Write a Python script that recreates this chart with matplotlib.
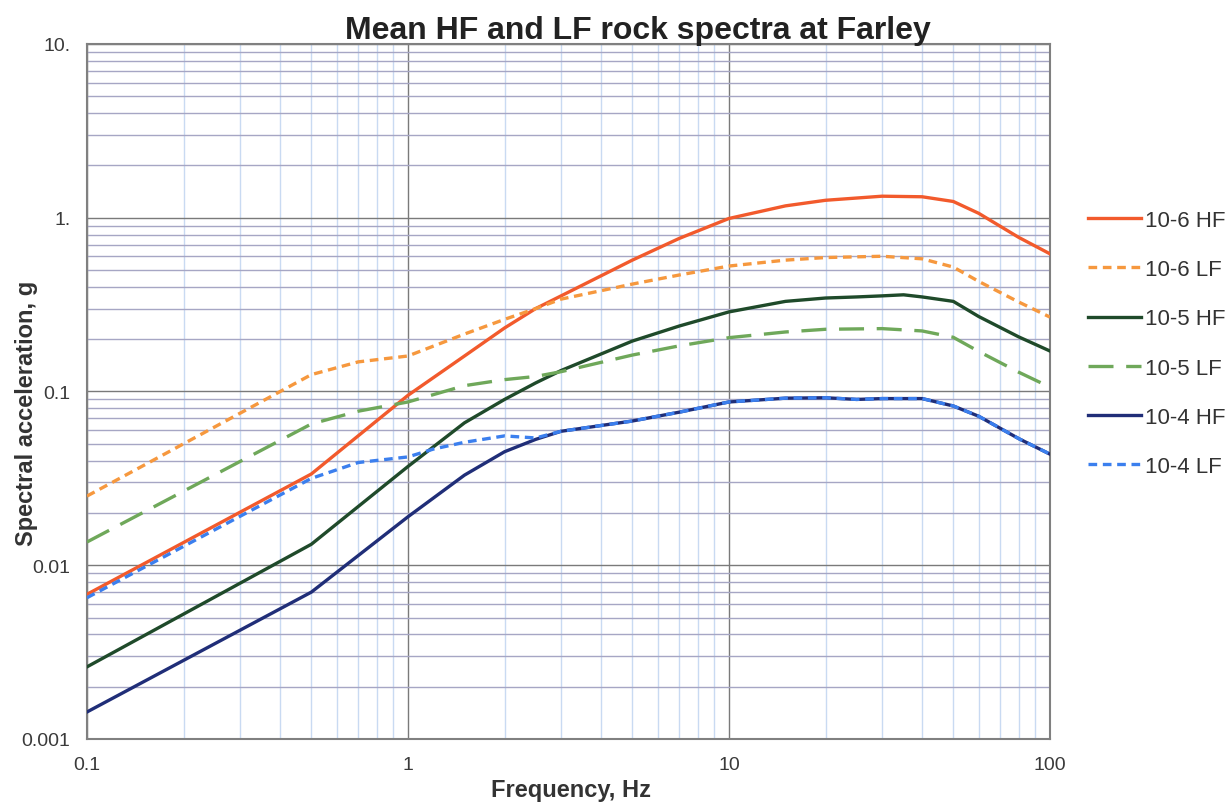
import matplotlib.pyplot as plt
import numpy as np

plt.rcParams['font.family'] = ['Liberation Sans', 'DejaVu Sans']

# frequencies (Hz) and spectral acceleration (g)
f_hf6 = [0.1, 0.5, 1, 1.5, 2, 2.5, 3, 5, 7, 10, 15, 20, 30, 40, 50, 60, 80, 100]
sa_hf6 = [0.0068, 0.0335, 0.095, 0.16, 0.232, 0.30, 0.355, 0.57, 0.76, 0.99,
          1.17, 1.26, 1.33, 1.32, 1.24, 1.06, 0.77, 0.62]

f_lf6 = [0.1, 0.5, 0.7, 1, 1.5, 2, 2.5, 3, 5, 7, 10, 15, 20, 30, 40, 50, 60, 80, 100]
sa_lf6 = [0.025, 0.125, 0.148, 0.16, 0.214, 0.26, 0.30, 0.34, 0.415, 0.468, 0.527,
          0.57, 0.59, 0.60, 0.58, 0.52, 0.43, 0.327, 0.268]

f_hf5 = [0.1, 0.5, 1, 1.5, 2, 2.5, 3, 5, 7, 10, 15, 20, 25, 30, 35, 40, 50, 60, 80, 100]
sa_hf5 = [0.0026, 0.0132, 0.037, 0.066, 0.09, 0.112, 0.132, 0.195, 0.238, 0.287,
          0.33, 0.345, 0.35, 0.355, 0.36, 0.35, 0.33, 0.27, 0.206, 0.171]

f_lf5 = [0.1, 0.5, 0.7, 1, 1.5, 2, 2.5, 3, 5, 7, 10, 15, 20, 30, 40, 50, 60, 80, 100]
sa_lf5 = [0.0136, 0.065, 0.077, 0.087, 0.108, 0.117, 0.122, 0.13, 0.162, 0.183, 0.204,
          0.22, 0.228, 0.23, 0.223, 0.205, 0.17, 0.129, 0.106]

f_hf4 = [0.1, 0.5, 1, 1.5, 2, 2.5, 3, 5, 7, 10, 15, 20, 25, 30, 40, 50, 60, 80, 100]
sa_hf4 = [0.00143, 0.007, 0.019, 0.033, 0.045, 0.053, 0.059, 0.0676, 0.076, 0.087,
          0.0915, 0.092, 0.090, 0.091, 0.091, 0.0825, 0.072, 0.0535, 0.0436]

f_lf4 = [0.1, 0.5, 0.7, 1, 1.2, 1.5, 2, 2.5, 3, 5, 7, 10, 15, 20, 25, 30, 40, 50, 60, 80, 100]
sa_lf4 = [0.0065, 0.0316, 0.039, 0.042, 0.0466, 0.051, 0.0555, 0.054, 0.059, 0.0676, 0.076,
          0.087, 0.0915, 0.092, 0.090, 0.091, 0.091, 0.0825, 0.072, 0.0535, 0.0436]

ytick_vals = [0.001, 0.01, 0.1, 1, 10]
ytick_labels = ['0.001', '0.01', '0.1', '1.', '10.']
xtick_vals = [0.1, 1, 10, 100]
xtick_labels = ['0.1', '1', '10', '100']

fig = plt.figure(figsize=(12.32, 8.03), dpi=100)
ax = fig.add_axes([0.0706, 0.0785, 0.7816, 0.8655])
ax.set_xscale('log')
ax.set_yscale('log')
ax.set_xlim(0.1, 100)
ax.set_ylim(0.001, 10)

# grid: dark majors, purple-grey horizontal minors, pale blue vertical minors
ax.grid(True, which='major', axis='both', color='#7a7a7a', lw=1.0)
ax.grid(True, which='minor', axis='y', color='#a6a6c4', lw=1.0)
ax.grid(True, which='minor', axis='x', color='#c9daf2', lw=1.0)
ax.set_axisbelow(True)
for s in ax.spines.values():
    s.set_color('#808080')
    s.set_linewidth(1.5)

lw = 2.4
ax.plot(f_hf6, sa_hf6, color='#F25A2C', lw=lw, label='10-6 HF', zorder=3)
ax.plot(f_lf6, sa_lf6, color='#F6983E', lw=lw, dashes=(2.6, 1.7), label='10-6 LF', zorder=3)
ax.plot(f_hf5, sa_hf5, color='#1F4A2A', lw=lw, label='10-5 HF', zorder=3)
ax.plot(f_lf5, sa_lf5, color='#6FA85A', lw=lw, dashes=(7.5, 3.8), label='10-5 LF', zorder=3)
ax.plot(f_hf4, sa_hf4, color='#202E78', lw=lw, label='10-4 HF', zorder=3)
ax.plot(f_lf4, sa_lf4, color='#3B7FEE', lw=lw, dashes=(2.6, 1.7), label='10-4 LF', zorder=4)

ax.set_xticks(xtick_vals)
ax.set_xticklabels(xtick_labels)
ax.set_yticks(ytick_vals)
ax.set_yticklabels(ytick_labels)
ax.tick_params(axis='both', which='both', length=0, labelsize=14, colors='#3a3a3a')
ax.tick_params(axis='x', pad=12)
ax.tick_params(axis='y', pad=12)

ax.set_xlabel('Frequency, Hz', fontsize=17, fontweight='bold', color='#333333')
ax.set_ylabel('Spectral acceleration, g', fontsize=17, fontweight='bold', color='#333333')
ax.xaxis.set_label_coords(0.5026, -0.072)
ax.xaxis.label.set_va('center')
ax.yaxis.set_label_coords(-0.0625, 0.4705)
ax.yaxis.label.set_va('center')

fig.text(0.518, 0.962, 'Mean HF and LF rock spectra at Farley', ha='center', va='center',
         fontsize=23, fontweight='bold', color='#222222')

leg = ax.legend(loc='upper left', bbox_to_anchor=(1.030, 0.774), frameon=False,
                fontsize=16, handlelength=2.4, handletextpad=0.2, labelspacing=1.27,
                borderaxespad=0)
for t in leg.get_texts():
    t.set_color('#333333')

fig.savefig('out.png', dpi=100)
